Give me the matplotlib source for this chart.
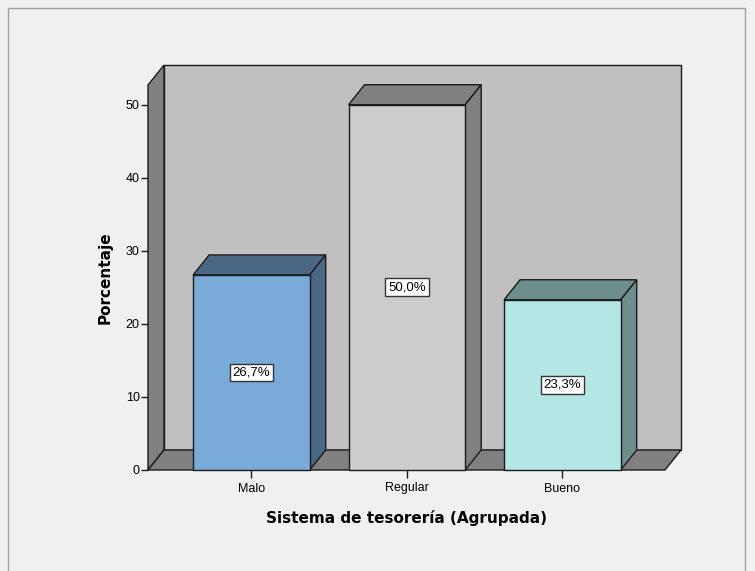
import matplotlib.pyplot as plt
from matplotlib.patches import Polygon, Rectangle

# Datos del gráfico
categorias = ['Malo', 'Regular', 'Bueno']
porcentajes = [26.7, 50.0, 23.3]
etiquetas = ['26,7%', '50,0%', '23,3%']
ticks_y = [0, 10, 20, 30, 40, 50]

# Colores: cara frontal y caras lateral/superior de cada barra
color_frente = ['#7aaad8', '#cccccc', '#b4e6e6']
color_lado = ['#4a6884', '#808080', '#6e8e8e']

ancho = 0.75      # ancho de barra
dx, dy = 0.103, 2.74   # desplazamiento de profundidad
xmin, xmax = -0.665, 2.66
ytop = 52.7

fig = plt.figure(figsize=(7.55, 5.71), dpi=100)
fig.patch.set_facecolor('#f0f0f0')

# Marco exterior
fig.patches.append(Rectangle((8 / 755, -0.02), 737 / 755, 1 - 8 / 571 + 0.02,
                             transform=fig.transFigure, fill=False,
                             edgecolor='#a0a0a0', lw=1))

ax = fig.add_axes([148 / 755, 101 / 571, 517 / 755, 385 / 571])
ax.set_xlim(xmin, xmax)
ax.set_ylim(0, ytop)
ax.patch.set_visible(False)


def poligono(puntos, color, z):
    ax.add_patch(Polygon(puntos, closed=True, facecolor=color,
                         edgecolor='#1a1a1a', lw=1, clip_on=False, zorder=z))


# Pared del fondo, pared izquierda y suelo
poligono([(xmin + dx, dy), (xmax + dx, dy), (xmax + dx, ytop + dy),
          (xmin + dx, ytop + dy)], '#c0c0c0', 1)
poligono([(xmin, 0), (xmin + dx, dy), (xmin + dx, ytop + dy), (xmin, ytop)],
         '#808080', 2)
poligono([(xmin, 0), (xmax, 0), (xmax + dx, dy), (xmin + dx, dy)],
         '#808080', 2)

# Barras 3D
for i, v in enumerate(porcentajes):
    x0, x1 = i - ancho / 2, i + ancho / 2
    poligono([(x0, v), (x1, v), (x1 + dx, v + dy), (x0 + dx, v + dy)],
             color_lado[i], 3)
    poligono([(x1, 0), (x1 + dx, dy), (x1 + dx, v + dy), (x1, v)],
             color_lado[i], 3)
    poligono([(x0, 0), (x1, 0), (x1, v), (x0, v)], color_frente[i], 4)
    ax.text(i, v / 2, etiquetas[i], ha='center', va='center', fontsize=9.5,
            family='Liberation Sans', zorder=5,
            bbox=dict(boxstyle='square,pad=0.22', facecolor='white',
                      edgecolor='#333333', lw=1))

# Ejes
for lado in ['top', 'right', 'bottom', 'left']:
    ax.spines[lado].set_visible(False)
ax.set_yticks(ticks_y)
ax.set_yticklabels([str(t) for t in ticks_y], family='Liberation Sans', fontsize=9)
ax.set_xticks(range(len(categorias)))
ax.set_xticklabels(categorias, family='Liberation Sans', fontsize=9)
ax.tick_params(axis='y', direction='out', length=5, width=1, color='#1a1a1a', pad=1)
ax.tick_params(axis='x', direction='out', length=6, width=1, color='#1a1a1a', pad=3)

ax.set_ylabel('Porcentaje', fontsize=11, fontweight='bold', va='center')
ax.yaxis.set_label_coords((105 - 148) / 517, 0.5)
ax.set_xlabel('Sistema de tesorería (Agrupada)', fontsize=11, fontweight='bold',
              va='center')
ax.xaxis.set_label_coords(0.5, (470 - 518) / 385)

fig.savefig('out.png', dpi=100, facecolor=fig.get_facecolor())
